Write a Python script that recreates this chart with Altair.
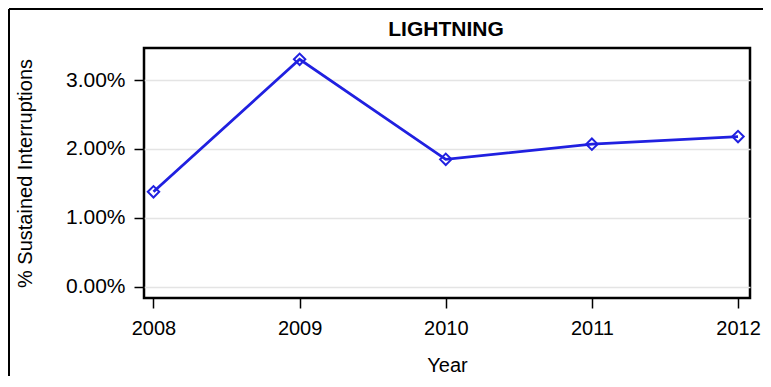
import altair as alt
import pandas as pd

years = [2008, 2009, 2010, 2011, 2012]
pct = [0.0138, 0.0330, 0.0185, 0.0207, 0.0218]
y_ticks = [0.0, 0.01, 0.02, 0.03]
title_text = ["LIGHTNING"]

df = pd.DataFrame({"Year": years, "Pct": pct})

FONT = "Liberation Sans"
BLUE = "#2020e0"

x = alt.X("Year:Q", scale=alt.Scale(domain=[2007.935, 2012.082], nice=False, zero=False),
          axis=alt.Axis(values=years, format="d", title="Year", grid=False,
                        tickSize=10, tickWidth=1.5, tickColor="black",
                        labelPadding=10, titlePadding=17, domain=False,
                        labelFontSize=20, titleFontSize=20, labelFont=FONT, titleFont=FONT,
                        labelColor="black", titleColor="black", titleFontWeight="normal"))
y = alt.Y("Pct:Q", scale=alt.Scale(domain=[-0.0016, 0.03464], nice=False, zero=False),
          axis=alt.Axis(values=y_ticks, format=".2%", title="% Sustained Interruptions",
                        grid=True, gridColor="#e4e4e4", gridWidth=1.5,
                        tickSize=10, tickWidth=1.5, tickColor="black",
                        labelPadding=9, titlePadding=30, domain=False,
                        labelFontSize=21, titleFontSize=20, labelFont=FONT, titleFont=FONT,
                        labelColor="black", titleColor="black", titleFontWeight="normal"))

line = alt.Chart(df).mark_line(color=BLUE, strokeWidth=2.8).encode(x=x, y=y)
pts = alt.Chart(df).mark_point(shape="diamond", size=130, filled=False, color=BLUE,
                               strokeWidth=2, opacity=1).encode(x=x, y=y)

frame_df = pd.DataFrame({"a": [0]})
left_edge = alt.Chart(frame_df).mark_rule(color="black", strokeWidth=2, clip=False).encode(
    x=alt.value(-135), y=alt.value(-39), y2=alt.value(340))
top_edge = alt.Chart(frame_df).mark_rule(color="black", strokeWidth=2, clip=False).encode(
    x=alt.value(-135), x2=alt.value(625), y=alt.value(-39))

title = alt.Chart(pd.DataFrame({"t": title_text})).mark_text(
    font=FONT, fontSize=21, fontWeight="bold", color="black",
    align="center", baseline="middle", clip=False
).encode(text="t:N", x=alt.value(302), y=alt.value(-18))

chart = alt.layer(line, pts, left_edge, top_edge, title).properties(
    width=606, height=250,
    autosize=alt.AutoSizeParams(type="none"),
    padding={"left": 136, "top": 40, "right": 13, "bottom": 78},
    background="white",
).configure_view(stroke="black", strokeWidth=2.5)

chart.save("out.html", embed_options={"renderer": "svg", "actions": False})
